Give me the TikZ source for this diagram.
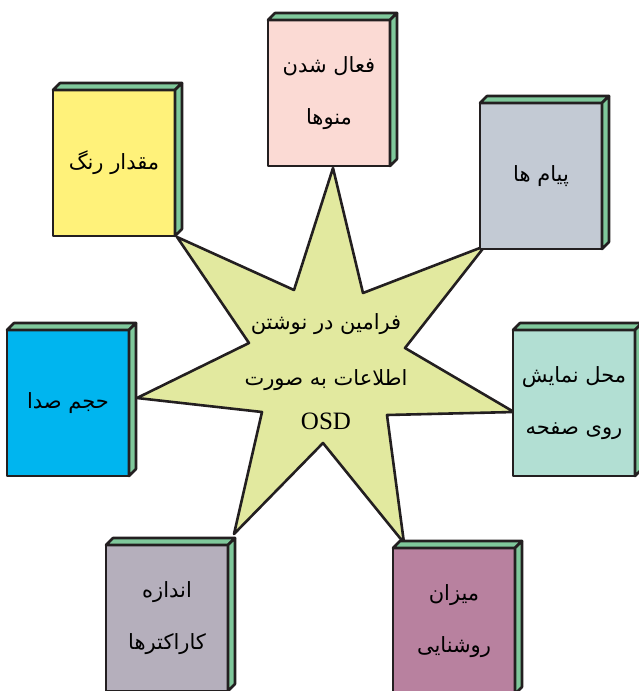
\documentclass[tikz,border=0pt]{standalone}
\usepackage{fontspec}
\usepackage{xcolor}
\usepackage{tikz}
\setmainfont{Liberation Serif}
\newfontfamily\farsi[Script=Arabic]{DejaVu Sans}
\TeXXeTstate=1
\newcommand{\fa}[1]{\beginR #1\endR}

\definecolor{edge}{HTML}{231F20}
\definecolor{spine}{HTML}{7FC89B}
\definecolor{starfill}{HTML}{E2E99F}
\definecolor{pinkbk}{HTML}{FBDAD4}
\definecolor{yellowbk}{HTML}{FFF27A}
\definecolor{greybk}{HTML}{C3CAD4}
\definecolor{cyanbk}{HTML}{00B5EF}
\definecolor{mintbk}{HTML}{B2DFD3}
\definecolor{lilacbk}{HTML}{B5AFBC}
\definecolor{mauvebk}{HTML}{B8819F}

\begin{document}
\begin{tikzpicture}[x=1pt, y=-1pt, line join=round,
  book/.style={draw=edge, line width=2.6pt, anchor=north west, outer sep=0pt,
  minimum width=122pt, minimum height=146pt, inner sep=0pt, align=center,
  font=\farsi\fontsize{21}{52}\selectfont}]
  \useasboundingbox (0,0) rectangle (639,691);
  \clip (0,0) rectangle (639,691);

  % the star in the middle
  \draw[draw=edge, fill=starfill, line width=2.6pt] (333,168) -- (363,293) -- (485,246)
    -- (405,348) -- (514,412) -- (387,415) -- (404,543) -- (323,443) -- (234,534)
    -- (262,412) -- (137,398) -- (249,343) -- (177,237) -- (294,290) -- cycle;
  \node[align=center, font=\farsi\fontsize{21}{56}\selectfont] (osd) at (326,372)
    {\fa{فرامین در نوشتن}\\\fa{اطلاعات به صورت}\\[-12pt]{\rmfamily\fontsize{25}{30}\selectfont OSD}};

  \node[book, fill=pinkbk] (menus) at (268,20) {\fa{فعال شدن}\\\fa{منوها}};
  \node[book, fill=yellowbk] (colour) at (53,90) {\fa{مقدار رنگ}};
  \node[book, fill=greybk] (messages) at (480,103) {\fa{پیام ها}};
  \node[book, fill=cyanbk] (volume) at (7,330) {\fa{حجم صدا}};
  \node[book, fill=mintbk] (place) at (513,330) {\fa{محل نمایش}\\\fa{روی صفحه}};
  \node[book, fill=lilacbk] (charsize) at (106,545) {\fa{اندازه}\\\fa{کاراکترها}};
  \node[book, fill=mauvebk] (bright) at (393,548) {\fa{میزان}\\\fa{روشنایی}};

  % top and side of each book
  \foreach \b in {menus,colour,messages,volume,place,charsize,bright} {
    \draw[draw=edge, fill=spine, line width=2.6pt] (\b.north west) -- ([shift={(7pt,7pt)}]\b.north west)
      -- ([shift={(7pt,7pt)}]\b.north east) -- (\b.north east) -- cycle;
    \draw[draw=edge, fill=spine, line width=2.6pt] (\b.north east) -- ([shift={(7pt,7pt)}]\b.north east)
      -- ([shift={(7pt,7pt)}]\b.south east) -- (\b.south east) -- cycle;
  }
\end{tikzpicture}
\end{document}
